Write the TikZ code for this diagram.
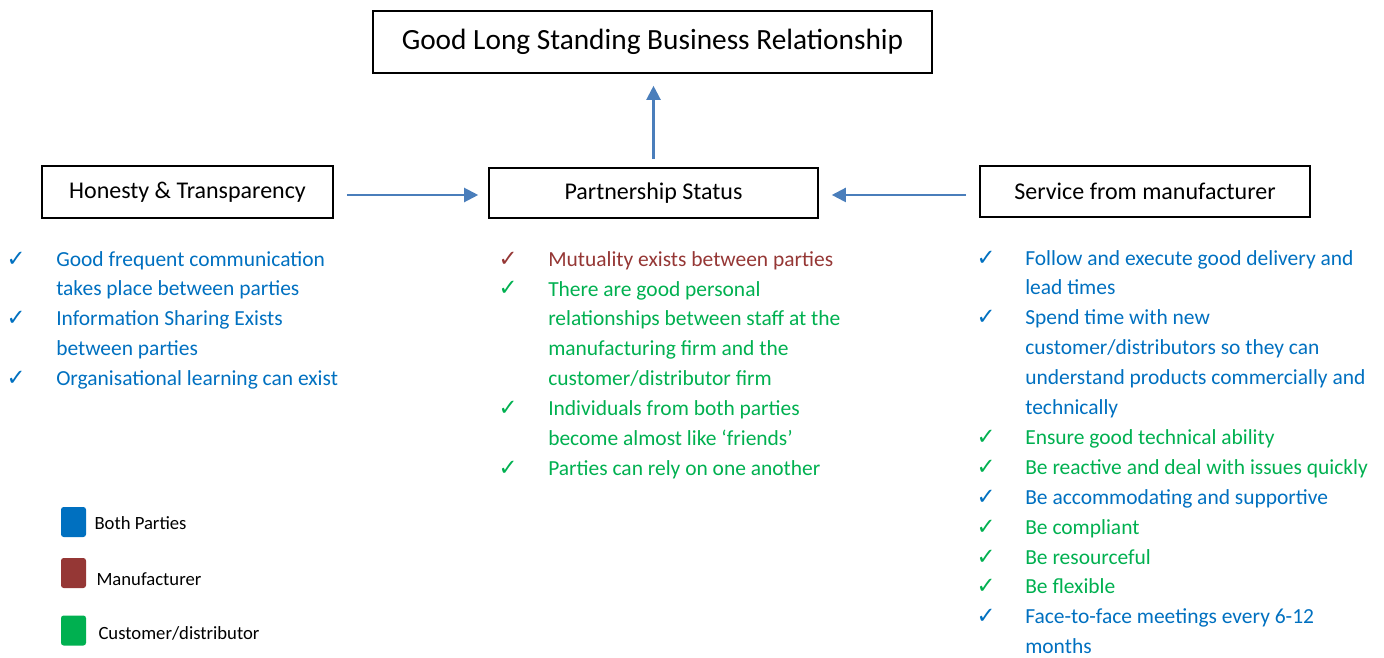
\documentclass[tikz,border=0pt]{standalone}
\usepackage{fontspec}
\setmainfont{Carlito}
\newfontfamily\tickfont{DejaVu Sans}
\usetikzlibrary{arrows.meta, positioning}
\definecolor{bothBlue}{RGB}{0,112,192}
\definecolor{manRed}{RGB}{149,55,53}
\definecolor{custGreen}{RGB}{0,176,80}
\definecolor{linkBlue}{RGB}{74,126,187}
\tikzset{
  mainBox/.style={draw=black, line width=1.2pt, inner sep=0pt, font=\fontsize{18}{22}\selectfont},
  goalBox/.style={mainBox, font=\fontsize{22}{26}\selectfont},
  linkArrow/.style={-{Triangle[length=10.5pt, width=10.5pt]}, line width=1.6pt, draw=linkBlue, fill=linkBlue},
  % --- lists under the boxes (text node sits on its last line) ---
  tickMark/.style={anchor=base, inner sep=0pt, font=\tickfont\fontsize{17}{20}\selectfont},
  itemText/.style={anchor=base west, inner sep=0pt, align=left, font=\fontsize{16.1}{22.4}\selectfont},
  % --- legend ---
  legendBox/.style={rounded corners=2pt, minimum width=18.75pt, minimum height=22.5pt, inner sep=0pt},
  legendText/.style={inner sep=0pt, anchor=west, font=\fontsize{14}{16}\selectfont}
}
\begin{document}
\begin{tikzpicture}[x=0.75pt, y=-0.75pt]
  \useasboundingbox (0,0) rectangle (1384,657);

  % Boxes
  \node[goalBox, minimum width=419.25pt, minimum height=46.5pt] (goal) at (652.5,42) {Good Long Standing Business Relationship};
  \node[mainBox, minimum width=246.75pt, minimum height=37.5pt] (partner) at (653.5,193) {Partnership Status};
  \node[mainBox, minimum width=218.25pt, minimum height=39pt] (honesty) at (187.5,192) {Honesty \& Transparency};
  \node[mainBox, minimum width=247.5pt, minimum height=38.25pt] (service) at (1145,191.5) {Service from manufacturer};

  % Arrows
  \draw[linkArrow, shorten <=9.75pt, shorten >=7.5pt] ([yshift=-2.25pt]honesty.east) -- ([yshift=-2.25pt]honesty.east -| partner.west);
  \draw[linkArrow, shorten <=9.75pt, shorten >=9.75pt] ([yshift=-2.6pt]service.west) -- ([yshift=-2.6pt]service.west -| partner.east);
  \draw[linkArrow, shorten <=6pt, shorten >=9pt] (partner.north) -- (goal.south -| partner.north);

  % Left list (Honesty & Transparency): first line / last line / colour / text
  \foreach \n/\m/\c/\t in {0/1/bothBlue/{Good frequent communication\\takes place between parties},
                           2/3/bothBlue/{Information Sharing Exists\\between parties},
                           4/4/bothBlue/{Organisational learning can exist}} {
    \node[tickMark, text=\c] (leftTick\n) at (16, 266+29.9*\n) {✓};
    \node[itemText, text=\c] (leftItem\n) at (56, 266+29.9*\m) {\t};
  }

  % Middle list (Partnership Status)
  \foreach \n/\m/\c/\t in {0/0/manRed/{Mutuality exists between parties},
                           1/4/custGreen/{There are good personal\\relationships between staff at the\\manufacturing firm and the\\customer/distributor firm},
                           5/6/custGreen/{Individuals from both parties\\become almost like ‘friends’},
                           7/7/custGreen/{Parties can rely on one another}} {
    \node[tickMark, text=\c] (midTick\n) at (508, 266+29.9*\n) {✓};
    \node[itemText, text=\c] (midItem\n) at (548, 266+29.9*\m) {\t};
  }

  % Right list (Service from manufacturer)
  \foreach \n/\m/\c/\t in {0/1/bothBlue/{Follow and execute good delivery and\\lead times},
                           2/5/bothBlue/{Spend time with new\\customer/distributors so they can\\understand products commercially and\\technically},
                           6/6/custGreen/{Ensure good technical ability},
                           7/7/custGreen/{Be reactive and deal with issues quickly},
                           8/8/bothBlue/{Be accommodating and supportive},
                           9/9/custGreen/{Be compliant},
                           10/10/custGreen/{Be resourceful},
                           11/11/custGreen/{Be flexible},
                           12/13/bothBlue/{Face-to-face meetings every 6-12\\months}} {
    \node[tickMark, text=\c] (rightTick\n) at (986, 265+29.9*\n) {✓};
    \node[itemText, text=\c] (rightItem\n) at (1025, 265+29.9*\m) {\t};
  }

  % Legend
  \node[legendBox, fill=bothBlue] (legBoth) at (73.5,522) {};
  \node[legendText, right=6pt of legBoth, yshift=-0.75pt] (legBothTxt) {Both Parties};
  \node[legendBox, fill=manRed] (legMan) at (73.5,573) {};
  \node[legendText, right=7.5pt of legMan, yshift=-4.5pt] (legManTxt) {Manufacturer};
  \node[legendBox, fill=custGreen] (legCust) at (73.5,630.5) {};
  \node[legendText, right=9pt of legCust, yshift=-2pt] (legCustTxt) {Customer/distributor};
\end{tikzpicture}
\end{document}
